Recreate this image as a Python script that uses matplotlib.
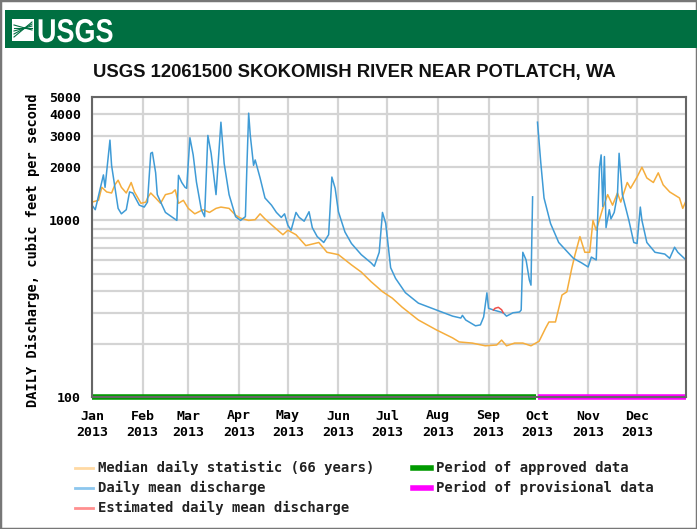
import numpy as np
import pandas as pd
import matplotlib
matplotlib.use("Agg")
import matplotlib.pyplot as plt
from matplotlib.lines import Line2D
from matplotlib.patches import Rectangle, PathPatch
from matplotlib.textpath import TextPath
from matplotlib.font_manager import FontProperties
from matplotlib.transforms import Affine2D

# ---- data (day of year 2013, cubic feet per second) ----
daily_days = [0, 2, 7, 8, 11, 12, 16, 18, 21, 23, 25, 29, 32, 34, 36, 37, 39, 40, 45, 52,
              53, 55, 57, 58, 60, 62, 64, 67, 69, 71, 73, 76, 79, 81, 84, 88, 91, 94, 95, 96,
              97, 99, 100, 103, 106, 110, 113, 116, 118, 120, 122, 125, 127, 130, 133, 135,
              138, 142, 145, 147, 149, 151, 155, 159, 165, 171, 173, 176, 178, 180, 183, 186,
              192, 200, 211, 221, 226, 227, 229, 235, 238, 240, 242, 243, 246, 252, 254, 258,
              262, 263, 264, 266, 268, 269, 270, 271.5, 273, 275, 277, 281, 286, 289, 295,
              300, 304, 306, 309, 310, 311, 312, 313, 314, 315, 317, 318, 320, 322, 323, 325,
              329, 332, 334, 336, 337, 340, 345, 351, 354, 357, 359, 364]
daily_vals = [1220, 1150, 1810, 1540, 2850, 2050, 1170, 1090, 1150, 1450, 1430, 1220, 1190,
              1270, 2400, 2430, 1860, 1400, 1110, 1000, 1800, 1640, 1540, 1520, 2940, 2350,
              1650, 1150, 1050, 3030, 2400, 1400, 3600, 2100, 1400, 1050, 1000, 1050, 2130,
              4050, 3030, 2050, 2200, 1740, 1340, 1220, 1110, 1040, 1090, 940, 880, 1110, 1040,
              990, 1120, 910, 810, 750, 830, 1760, 1520, 1120, 860, 740, 640, 575, 550, 660,
              1110, 960, 540, 470, 390, 340, 311, 287, 280, 290, 273, 253, 256, 284, 389, 318,
              311, 300, 287, 300, 303, 311, 660, 597, 460, 430, 1360, np.nan, 3600, 2130, 1340,
              960, 750, 700, 610, 575, 545, 620, 597, 1120, 2000, 2350, 1200, 2300, 910, 1150,
              1020, 1110, 1400, 2400, 1400, 1000, 750, 740, 1190, 1000, 750, 660, 645, 610,
              705, 660, 597]

est_days = [246, 247, 249, 251, 252]
est_vals = [311, 318, 322, 312, 300]

median_days = [0, 4, 6, 9, 12, 14, 16, 18, 21, 24, 26, 30, 33, 34, 36, 39, 42, 45, 49, 51,
               53, 56, 59, 63, 68, 72, 76, 79, 84, 88, 91, 96, 100, 103, 106, 112, 117, 120,
               125, 131, 139, 144, 151, 159, 165, 171, 178, 184, 190, 200, 211, 221, 225, 233,
               241, 248, 251, 254, 259, 264, 269, 274, 278, 280, 284, 288, 291, 294, 296, 299,
               302, 305, 307, 309, 313, 316, 319, 322, 324, 328, 330, 334, 337, 340, 344, 347,
               350, 354, 360, 362, 364]
median_vals = [1270, 1300, 1540, 1450, 1430, 1590, 1690, 1540, 1430, 1640, 1450, 1250, 1270,
               1340, 1430, 1340, 1250, 1400, 1430, 1490, 1250, 1300, 1170, 1090, 1150, 1110,
               1170, 1190, 1170, 1070, 1030, 1000, 1010, 1090, 1020, 910, 830, 880, 830, 720,
               750, 660, 640, 560, 510, 450, 395, 363, 323, 273, 240, 216, 205, 202, 195, 197,
               210, 195, 202, 202, 195, 207, 246, 266, 266, 378, 394, 536, 640, 810, 660, 660,
               1000, 880, 1170, 1400, 1220, 1430, 1270, 1640, 1520, 1760, 2000, 1740, 1640,
               1860, 1590, 1450, 1340, 1170, 1290]

approved_period = ("2013-01-01", "2013-09-30")
provisional_period = ("2013-10-01", "2013-12-31")

month_labels = ["Jan", "Feb", "Mar", "Apr", "May", "Jun", "Jul", "Aug", "Sep", "Oct", "Nov", "Dec"]
ytick_vals = [100, 1000, 2000, 3000, 4000, 5000]

title = "USGS 12061500 SKOKOMISH RIVER NEAR POTLATCH, WA"
ylabel = "DAILY Discharge, cubic feet per second"

start = pd.Timestamp("2013-01-01")


def to_dates(days):
    return [start + pd.Timedelta(days=d) for d in days]


blue = "#3f9bd6"
orange = "#f5ad3c"
red = "#f0504a"
green = "#009a00"
magenta = "#ff00ff"
mono = "DejaVu Sans Mono"

W, H = 697, 529
fig = plt.figure(figsize=(W / 100, H / 100), dpi=100)

# header band + outer frame
fig.patches.append(Rectangle((0, 0), 1, 1, transform=fig.transFigure, fill=False,
                             edgecolor="#777777", linewidth=2.5))
fig.patches.append(Rectangle((5 / W, 1 - 48 / H), 1 - 5 / W, 38 / H, transform=fig.transFigure,
                             facecolor="#006f41", edgecolor="none"))
fig.patches.append(Rectangle((12 / W, 1 - 41 / H), 22 / W, 22 / H, transform=fig.transFigure,
                             facecolor="white", edgecolor="none"))
for k in range(5):
    fig.lines.append(Line2D([14 / W, 32 / W], [1 - (37 - 3 * k) / H, 1 - (22 + 2 * k) / H],
                            transform=fig.transFigure, color="#006f41", linewidth=0.8))

# condensed "USGS" word mark
logo_path = TextPath((0, 0), "USGS", size=1,
                     prop=FontProperties(family="Liberation Sans", weight="bold"))
logo = PathPatch(logo_path, facecolor="white", edgecolor="none", zorder=5,
                 transform=Affine2D().scale(27, 33).translate(37, H - 42))
fig.add_artist(logo)

fig.text(354 / W, 1 - 72 / H, title, fontsize=13.3, fontweight="bold",
         family="Liberation Sans", ha="center", va="center", color="#111111")

ax = fig.add_axes([92 / W, 1 - 397 / H, 594 / W, 300 / H])
ax.set_yscale("log")
ax.set_ylim(100, 5000)
ax.set_xlim(start, pd.Timestamp("2013-12-31"))

grid_vals = list(range(100, 1000, 100)) + list(range(1000, 5001, 1000))
ax.set_yticks(grid_vals)
ax.set_yticklabels([str(v) if v in ytick_vals else "" for v in grid_vals])
ax.yaxis.set_minor_locator(matplotlib.ticker.NullLocator())
month_starts = pd.date_range("2013-01-01", periods=12, freq="MS")
ax.set_xticks(month_starts)
ax.set_xticklabels([f"{m}\n2013" for m in month_labels])
ax.tick_params(length=0, labelsize=9.5)
ax.tick_params(axis="x", pad=9)
ax.tick_params(axis="y", pad=8)
for lab in ax.get_xticklabels() + ax.get_yticklabels():
    lab.set_family(mono)
    lab.set_fontweight("bold")
    lab.set_linespacing(1.3)
ax.grid(True, color="#d4d4d4", linewidth=1.6)
ax.set_axisbelow(True)
for s in ax.spines.values():
    s.set_color("#666666")
    s.set_linewidth(1.5)

ax.plot(to_dates(median_days), median_vals, color=orange, linewidth=1.1)
ax.plot(to_dates(daily_days), daily_vals, color=blue, linewidth=1.1)
ax.plot(to_dates(est_days), est_vals, color=red, linewidth=1.1)
ax.plot(pd.to_datetime(approved_period), [100, 100], color=green, linewidth=4,
        clip_on=False, solid_capstyle="butt")
ax.plot(pd.to_datetime(provisional_period), [100, 100], color=magenta, linewidth=4,
        clip_on=False, solid_capstyle="butt")

fig.text(33 / W, 1 - 250 / H, ylabel, rotation=90, family=mono, fontweight="bold",
         fontsize=9.8, ha="center", va="center")

# legend
legend_rows = [
    (75, 468, "#ffd9a3", 2, "Median daily statistic (66 years)"),
    (75, 488, "#8cc6ee", 2, "Daily mean discharge"),
    (75, 508, "#ff8f8f", 2, "Estimated daily mean discharge"),
    (413, 468, green, 4, "Period of approved data"),
    (413, 488, magenta, 4, "Period of provisional data"),
]
for x0, y0, col, lw, txt in legend_rows:
    fig.lines.append(Line2D([x0 / W, (x0 + 18) / W], [1 - y0 / H, 1 - y0 / H],
                            transform=fig.transFigure, color=col, linewidth=lw))
    fig.text((x0 + 23) / W, 1 - y0 / H, txt, family=mono, fontweight="bold", fontsize=10,
             ha="left", va="center", color="#222222")

fig.savefig("out.png", dpi=100)
